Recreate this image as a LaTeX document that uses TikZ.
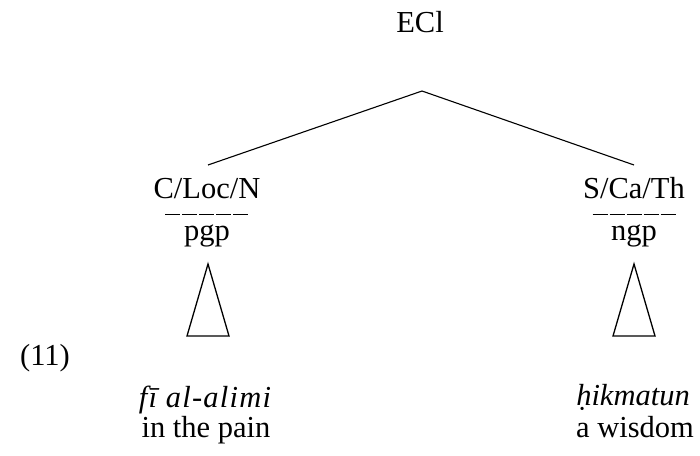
\documentclass[tikz,border=0pt]{standalone}
\usepackage{fontspec}
\setmainfont{Liberation Serif}
\begin{document}
\begin{tikzpicture}[x=1pt,y=-1pt,
  lbl/.style={anchor=base,inner sep=0pt,font=\fontsize{30.5}{36}\selectfont},
  bar/.style={line width=1pt,dash pattern=on 15.2pt off 1.8pt},
  branch/.style={line width=1.1pt},
  tri/.style={line width=1.3pt,line join=miter}]
\useasboundingbox (0,0) rectangle (700,455);

% root and its branches
\node[lbl] (root) at (420,32) {ECl};
\coordinate (apex) at (422,91);
\coordinate (lend) at (208,165);
\coordinate (rend) at (634,165);
\draw[branch] (lend) -- (apex) -- (rend);

% left daughter: category over function, separated by a broken rule
\node[lbl] (lcat) at (207,198) {C/Loc/N};
\coordinate (lbarl) at (165,214.5);
\coordinate (lbarr) at (248.2,214.5);
\draw[bar] (lbarl) -- (lbarr);
\node[lbl] (lfun) at (207,240) {pgp};
\coordinate (ltop) at (208,264);
\coordinate (lbl) at (187,336);
\coordinate (lbr) at (229,336);
\draw[tri] (ltop) -- (lbl) -- (lbr) -- cycle;

% right daughter
\node[lbl] (rcat) at (634,198) {S/Ca/Th};
\coordinate (rbarl) at (592.5,214.5);
\coordinate (rbarr) at (675.7,214.5);
\draw[bar] (rbarl) -- (rbarr);
\node[lbl] (rfun) at (634,240) {ngp};
\coordinate (rtop) at (634,264);
\coordinate (rbl) at (613,336);
\coordinate (rbr) at (655,336);
\draw[tri] (rtop) -- (rbl) -- (rbr) -- cycle;

% example number
\node[lbl,anchor=base west] (exnum) at (20,365) {(11)};

% terminal strings with glosses
\node[lbl] (lword) at (205,407) {\itshape\addfontfeatures{LetterSpace=4}fī al-alimi};
\node[lbl] (lgloss) at (206,437) {in the pain};
\node[lbl] (rword) at (633,405) {\itshape ḥikmatun};
\node[lbl] (rgloss) at (635,437) {a wisdom};
\end{tikzpicture}
\end{document}
